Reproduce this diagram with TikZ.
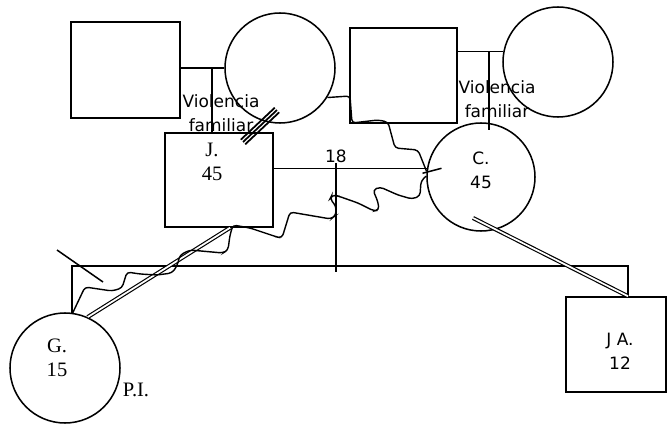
\documentclass[tikz,border=0pt]{standalone}
\usepackage{fontspec}
\setmainfont{Liberation Serif}
\newfontfamily\handfont{DejaVu Sans}
\usetikzlibrary{positioning}

\begin{document}
\begin{tikzpicture}[
    x=0.03cm, y=-0.03cm,
    line width=1.3pt,
    every node/.style={inner sep=0pt},
    male/.style 2 args={draw, rectangle, minimum width=#1, minimum height=#2},
    female/.style={draw, circle, minimum size=#1},
    hand/.style={font=\handfont\fontsize{14.5}{20.5}\selectfont, align=center},
    print/.style={font=\fontsize{17.5}{20}\selectfont, align=center},
    tie/.style={line width=1pt, double, double distance=1.5pt},
    conflict/.style={rounded corners=3pt, line width=1.2pt}
]
\useasboundingbox (0,0) rectangle (668,425);
% grandparents
\node[male={3.27cm}{2.88cm}] (fa) at (125.5,70) {};
\node[female=3.3cm] (ma) at (280,68) {};
\node[male={3.21cm}{2.85cm}] (fc) at (403.5,75.5) {};
\node[female=3.3cm] (mc) at (558,62) {};
% couple
\node[male={3.24cm}{2.82cm}] (j) at (219,180) {};
\node[female=3.24cm] (c) at (481,177) {};
% children
\node[female=3.3cm] (g) at (65,368) {};
\node[male={3.0cm}{2.85cm}] (ja) at (616,344.5) {};
% texts
\node[hand] (viol1) at (221,113) {Violencia\\familiar};
\node[hand] (viol2) at (497,99) {Violencia\\familiar};
\node[print] (jname) at (212,162) {J.\\45};
\node[hand] (cname) at (481,170) {C.\\45};
\node[hand] (n18) at (336,156) {18};
\node[print] (gname) at (57,358) {G.\\15};
\node[hand] (janame) at (620,351) {J A.\\12};
\node[print] (pi) at (136,390) {P.I.};
\coordinate (kid1) at (212,68);
\coordinate (kid2) at (489,52);
\coordinate (sr) at (628,266);
\coordinate (cin) at (473,218);
\coordinate (hatcha) at (243,142);
\coordinate (hatchb) at (277,110);
\coordinate (marka) at (57,250);
\coordinate (markb) at (103,282);

\draw (ma.west -| fa.east) -- (ma.west);
\draw (kid1) -- (kid1 |- j.north);
\draw (mc.169.5 -| fc.east) -- (mc.169.5);
\draw (kid2) -- ++(0,78);
\draw (c.171.5 -| j.east) -- (c.171.5);
\draw (n18.south) -- (n18.south |- 0,272);
\draw (g.83) |- (sr) -- (sr |- ja.north);
\draw[tie] (j.-77) -- (g.66);
\draw[tie] (cin) -- (sr |- ja.north);
\foreach \s in {-3.2,0,3.2}
  \draw[line width=1.5pt] ([shift={(0.685*\s,0.728*\s)}]hatcha) -- ([shift={(0.685*\s,0.728*\s)}]hatchb);
\draw (marka) -- (markb);
\draw[conflict] (ma.-32) -- (350,96) -- (352,123) -- (378,120) -- (388,122)
  -- (395,148) -- (418,150) -- (c.174);
\draw (c.174) ++(-4,2) -- ++(19,-5);
\draw[conflict] (c.179) -- (421,181) -- (420,196) -- (412,199) -- (398,195)
  -- (380,187) -- (373,190) -- (378,202) -- (379,210) -- (374,211) -- (358,203)
  -- (338,196) -- (332,195) -- (330,199) -- (336,206) -- (336,215) -- (331,219)
  -- (290,212) -- (282,238) -- (277,237) -- (250,228) -- (233,225) -- (230,235)
  -- (228,250) -- (223,253) -- (190,250) -- (180,255) -- (177,266) -- (172,273)
  -- (157,275) -- (140,274) -- (127,272) -- (122,288) -- (112,291) -- (85,287)
  -- (g.82);
\end{tikzpicture}
\end{document}
